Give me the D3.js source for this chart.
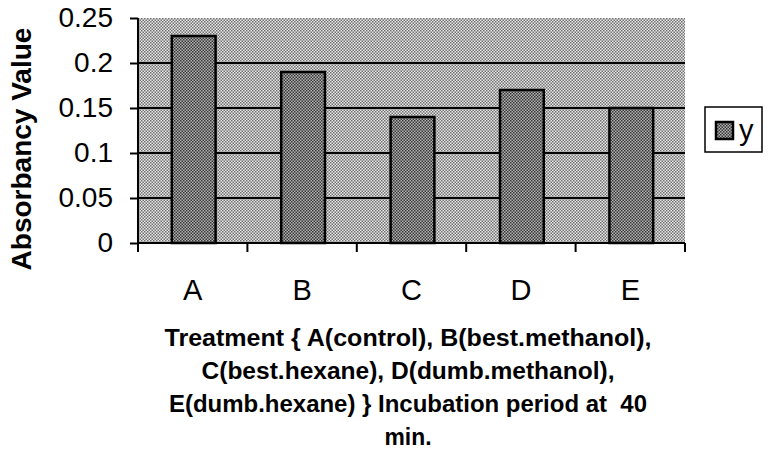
<!DOCTYPE html>
<html>
<head>
<meta charset="utf-8">
<style>
    body { margin: 0; background: #fff; }
    svg { display: block; font-family: "Liberation Sans", Arial, sans-serif; }
    .xtitle { white-space: pre; }
</style>
<script src="https://cdn.jsdelivr.net/npm/d3@7"></script>
</head>
<body>
<script>
// data
var categories = ["A", "B", "C", "D", "E"];
var values = [0.23, 0.19, 0.14, 0.17, 0.15];
var yTicks = [0, 0.05, 0.1, 0.15, 0.2, 0.25];
var yTickLabels = ["0", "0.05", "0.1", "0.15", "0.2", "0.25"];
var seriesName = "y";
var yTitle = "Absorbancy Value";
var xTitleLines = [
    "Treatment { A(control), B(best.methanol),",
    "C(best.hexane), D(dumb.methanol),",
    "E(dumb.hexane) } Incubation period at  40",
    "min."
];

var width = 770, height = 452;
var plot = {left: 138, right: 685, top: 18, bottom: 243};

var svg = d3.select("body").append("svg")
    .attr("width", width)
    .attr("height", height);

// halftone-ish fills
var defs = svg.append("defs");
function checker(id, light, dark) {
    var p = defs.append("pattern")
        .attr("id", id)
        .attr("width", 3).attr("height", 3)
        .attr("patternUnits", "userSpaceOnUse");
    p.append("rect").attr("width", 3).attr("height", 3).attr("fill", light);
    p.append("rect").attr("x", 0).attr("y", 0).attr("width", 1.5).attr("height", 1.5).attr("fill", dark);
    p.append("rect").attr("x", 1.5).attr("y", 1.5).attr("width", 1.5).attr("height", 1.5).attr("fill", dark);
}
checker("bgFill", "#e6e6e6", "#727272");
checker("barFill", "#b0b0b0", "#383838");

var x = d3.scaleBand()
    .domain(categories)
    .range([plot.left, plot.right])
    .paddingInner(0.6)
    .paddingOuter(0.3);

var y = d3.scaleLinear()
    .domain([0, 0.25])
    .range([plot.bottom, plot.top]);

// plot background
svg.append("rect")
    .attr("x", plot.left)
    .attr("y", y(0.25))
    .attr("width", plot.right - plot.left)
    .attr("height", y(0) - y(0.25))
    .attr("fill", "url(#bgFill)");

// gridlines
svg.selectAll(".grid")
    .data(yTicks.filter(function(d) { return d > 0 && d < 0.25; }))
    .enter().append("line")
    .attr("class", "grid")
    .attr("x1", plot.left).attr("x2", plot.right)
    .attr("y1", function(d) { return y(d); })
    .attr("y2", function(d) { return y(d); })
    .attr("stroke", "#000")
    .attr("stroke-width", 2);

// bars
svg.selectAll(".bar")
    .data(values)
    .enter().append("rect")
    .attr("class", "bar")
    .attr("x", function(d, i) { return x(categories[i]) + 1; })
    .attr("y", function(d) { return y(d); })
    .attr("width", x.bandwidth())
    .attr("height", function(d) { return y(0) - y(d); })
    .attr("fill", "url(#barFill)")
    .attr("stroke", "#000")
    .attr("stroke-width", 2.5);

// y axis
var yAxis = svg.append("g")
    .attr("transform", "translate(" + plot.left + ",0)")
    .call(d3.axisLeft(y)
        .tickValues(yTicks)
        .tickSize(8)
        .tickPadding(17)
        .tickFormat(function(d, i) { return yTickLabels[i]; }));
yAxis.select(".domain").attr("stroke-width", 2).attr("d", "M0," + plot.bottom + "V" + plot.top);
yAxis.selectAll(".tick line").attr("stroke-width", 2);
yAxis.selectAll("text")
    .attr("font-size", 28)
    .attr("font-family", "Liberation Sans, Arial, sans-serif")
    .attr("fill", "#000");

// x axis: labels centred under bars, ticks between categories
var xAxis = svg.append("g")
    .attr("transform", "translate(0," + plot.bottom + ")")
    .call(d3.axisBottom(x).tickSize(0));
xAxis.select(".domain").attr("stroke-width", 2).attr("d", "M" + plot.left + ",0H" + plot.right);
xAxis.selectAll("text")
    .attr("y", 57)
    .attr("dy", 0)
    .attr("font-size", 29)
    .attr("font-family", "Liberation Sans, Arial, sans-serif")
    .attr("fill", "#000");

var bounds = categories.map(function(c) { return x(c) - x.step() * 0.3; });
bounds.push(plot.right);
xAxis.selectAll(".sep")
    .data(bounds)
    .enter().append("line")
    .attr("class", "sep")
    .attr("x1", function(d) { return d; })
    .attr("x2", function(d) { return d; })
    .attr("y1", 0).attr("y2", 9)
    .attr("stroke", "#000")
    .attr("stroke-width", 2);

// y title
svg.append("text")
    .attr("transform", "translate(31,149) rotate(-90)")
    .attr("text-anchor", "middle")
    .attr("font-size", 28)
    .attr("font-weight", "bold")
    .text(yTitle);

// x title, several lines
var lineLengths = [487, 413, 478, 47];
svg.selectAll(".xtitle")
    .data(xTitleLines)
    .enter().append("text")
    .attr("class", "xtitle")
    .attr("x", 408)
    .attr("y", function(d, i) { return 346 + i * 33; })
    .attr("text-anchor", "middle")
    .attr("font-size", 23)
    .attr("font-weight", "bold")
    .attr("textLength", function(d, i) { return lineLengths[i]; })
    .attr("lengthAdjust", "spacingAndGlyphs")
    .text(function(d) { return d; });

// legend
var legend = svg.append("g").attr("transform", "translate(705,107)");
legend.append("rect")
    .attr("width", 57).attr("height", 45)
    .attr("fill", "#fff")
    .attr("stroke", "#000")
    .attr("stroke-width", 1.5);
legend.append("rect")
    .attr("x", 11).attr("y", 15)
    .attr("width", 17).attr("height", 17)
    .attr("fill", "url(#barFill)")
    .attr("stroke", "#000")
    .attr("stroke-width", 2.5);
legend.append("text")
    .attr("x", 34).attr("y", 33)
    .attr("font-size", 29)
    .text(seriesName);
</script>
</body>
</html>
